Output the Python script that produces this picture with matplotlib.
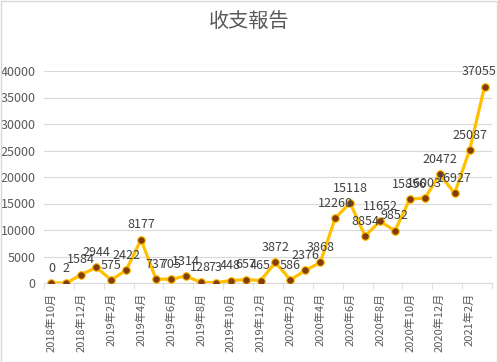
import matplotlib
matplotlib.use("Agg")
import matplotlib.pyplot as plt
from matplotlib.patches import Rectangle

plt.rcParams['font.family'] = ['Noto Sans CJK TC', 'DejaVu Sans']

months = ["2018年10月", "2018年11月", "2018年12月", "2019年1月", "2019年2月", "2019年3月",
          "2019年4月", "2019年5月", "2019年6月", "2019年7月", "2019年8月", "2019年9月",
          "2019年10月", "2019年11月", "2019年12月", "2020年1月", "2020年2月", "2020年3月",
          "2020年4月", "2020年5月", "2020年6月", "2020年7月", "2020年8月", "2020年9月",
          "2020年10月", "2020年11月", "2020年12月", "2021年1月", "2021年2月", "2021年3月"]
values = [0, 2, 1584, 2944, 575, 2422, 8177, 737, 705, 1314, 128, 73, 448, 657, 465,
          3872, 586, 2376, 3868, 12260, 15118, 8854, 11652, 9852, 15856, 16003, 20472,
          16927, 25087, 37055]
yticks = [0, 5000, 10000, 15000, 20000, 25000, 30000, 35000, 40000]

fig = plt.figure(figsize=(4.98, 3.62), dpi=100)
ax = fig.add_axes([44/498, 1-283/362, (492-44)/498, (283-71)/362])

x = list(range(len(values)))
ax.plot(x, values, color='#FFC000', linewidth=2.3, marker='o', markersize=5.5,
        markerfacecolor='#843C0C', markeredgecolor='#FFC000', markeredgewidth=0.8, zorder=3)

n = len(values)
for xi, v in zip(x, values):
    dx = -4 if xi == n - 1 else 0
    ax.annotate(str(v), (xi, v), xytext=(dx, 6), textcoords='offset points',
                ha='center', va='bottom', fontsize=9, color='#404040', zorder=4,
                annotation_clip=False)

ax.set_ylim(0, 40000)
ax.set_xlim(-0.5, n - 0.5)
ax.set_yticks(yticks)
ax.set_yticklabels([str(t) for t in yticks], fontsize=9, color='#595959')
ax.grid(axis='y', color='#D9D9D9', linewidth=0.8)
ax.set_axisbelow(True)

ax.set_xticks(x[::2])
ax.set_xticklabels(months[::2], rotation=90, fontsize=8, color='#595959')
ax.set_xticks([i - 0.5 for i in range(0, n + 1, 2)], minor=True)
ax.tick_params(axis='x', which='major', length=0, pad=7)
ax.tick_params(axis='x', which='minor', length=4, color='#D9D9D9')
ax.tick_params(axis='y', length=0, pad=6)

for s in ['top', 'right', 'left']:
    ax.spines[s].set_visible(False)
ax.spines['bottom'].set_color('#D9D9D9')

fig.text(0.5, 1 - 22/362, "收支報告", ha='center', va='center', fontsize=14.5, color='#595959')

fig.patches.append(Rectangle((0.5/498, 0.5/362), 1 - 1.5/498, 1 - 1.5/362, transform=fig.transFigure,
                             fill=False, edgecolor='#D9D9D9', linewidth=1))

fig.savefig("out.png", dpi=100)
